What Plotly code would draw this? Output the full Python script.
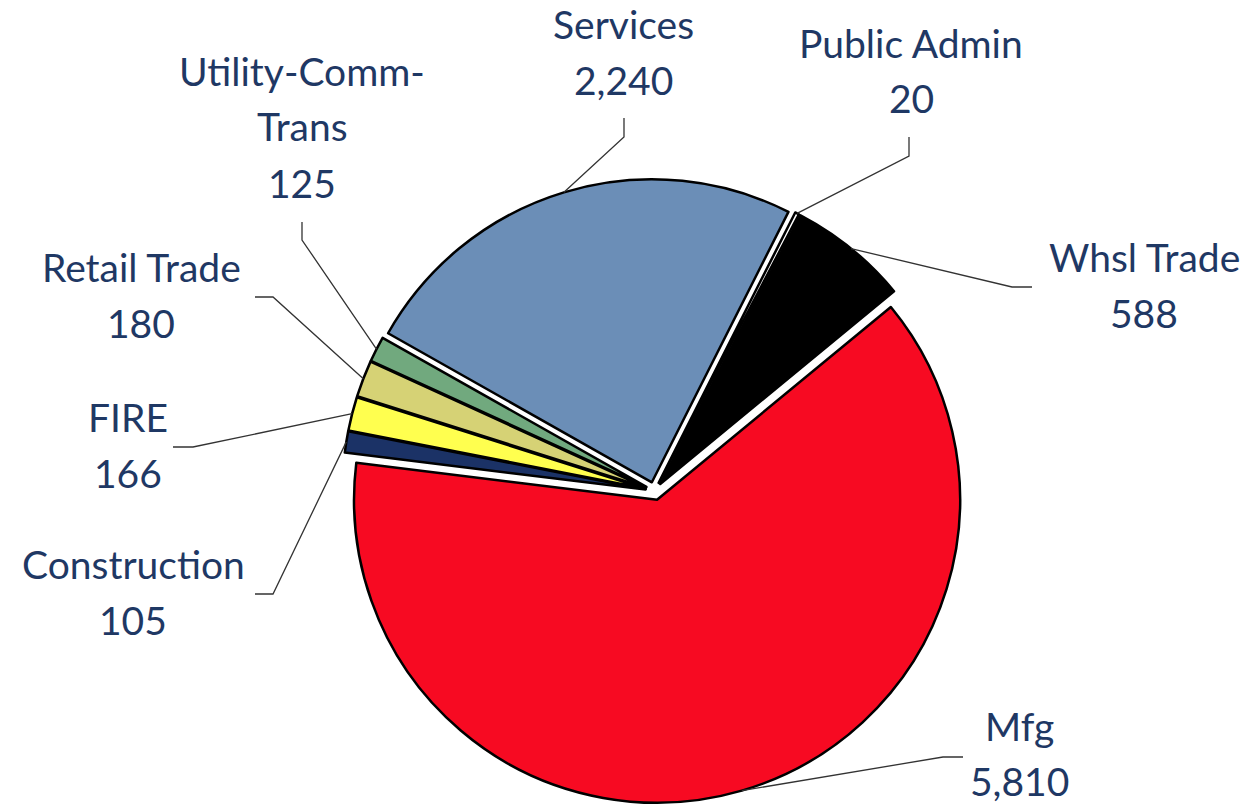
import math
import plotly.graph_objects as go

# jobs by sector, clockwise from the top-right edge of Mfg
sectors = ["Mfg", "Construction", "FIRE", "Retail Trade", "Utility-Comm-Trans",
           "Services", "Public Admin", "Whsl Trade"]
jobs = [5810, 105, 166, 180, 125, 2240, 20, 588]
colors = ["#F70A22", "#1B3266", "#FFFF4F", "#D6D275", "#71A97E",
          "#6B8EB7", "#FFFFFF", "#000000"]

W, H = 1253, 806
CX, CY = 654.5, 491.0   # pie centre in px
R = 303                 # pie radius in px
PULL = 0.03
ROTATION = 50.5
FONT = dict(family="Lato, 'Noto Sans', sans-serif", size=39, color="#1F3864")

# label layout in px: text centre x, centre y of each line, leader elbow/end
label_lines = {"Utility-Comm-Trans": ["Utility-Comm-", "Trans"]}
label_pos = {
    "Mfg": dict(x=1019, y=[726, 781], elbow=(943, 757), end=(963, 757)),
    "Construction": dict(x=133, y=[564, 620], elbow=(273, 594), end=(255, 594)),
    "FIRE": dict(x=128, y=[417, 473], elbow=(193, 447), end=(173, 447)),
    "Retail Trade": dict(x=141, y=[267, 323], elbow=(273, 297), end=(255, 297)),
    "Utility-Comm-Trans": dict(x=302, y=[71, 126, 183], elbow=(302, 240), end=(302, 222)),
    "Services": dict(x=623, y=[24, 80], elbow=(624, 137), end=(624, 118)),
    "Public Admin": dict(x=911, y=[43, 98], elbow=(909, 156), end=(909, 137)),
    "Whsl Trade": dict(x=1144, y=[257, 313], elbow=(1012, 287), end=(1032, 287)),
}


def px(x, y):
    """pixel position -> paper coords"""
    return x / W, 1 - y / H


half = R * (1 + PULL)
fig = go.Figure(go.Pie(
    labels=sectors,
    values=jobs,
    sort=False,
    direction="clockwise",
    rotation=ROTATION,
    pull=[PULL] * len(jobs),
    marker=dict(colors=colors, line=dict(color="#000000", width=2.5)),
    textinfo="none",
    hoverinfo="label+value",
    showlegend=False,
    domain=dict(x=[(CX - half) / W, (CX + half) / W],
                y=[1 - (CY + half) / H, 1 - (CY - half) / H]),
))

annotations = []
shapes = []
total = sum(jobs)
start = ROTATION
for name, v in zip(sectors, jobs):
    mid = math.radians(start + v / total * 180)
    start += v / total * 360
    ax = CX + half * math.sin(mid)
    ay = CY - half * math.cos(mid)

    pos = label_pos[name]
    lines = label_lines.get(name, [name]) + [f"{v:,}"]
    for text, ly in zip(lines, pos["y"]):
        xp, yp = px(pos["x"], ly)
        annotations.append(dict(x=xp, y=yp, xref="paper", yref="paper", text=text,
                                showarrow=False, xanchor="center", yanchor="middle",
                                font=FONT))

    pts = [px(ax, ay), px(*pos["elbow"]), px(*pos["end"])]
    path = "M " + " L ".join(f"{a:.5f},{b:.5f}" for a, b in pts)
    shapes.append(dict(type="path", path=path, xref="paper", yref="paper",
                       line=dict(color="#333333", width=1.3)))

fig.update_layout(
    width=W, height=H,
    margin=dict(l=0, r=0, t=0, b=0),
    paper_bgcolor="white",
    plot_bgcolor="white",
    annotations=annotations,
    shapes=shapes,
)

# drop the browser's default 8px body margin so the figure fills the window
fig.write_html("out.html", config={"displayModeBar": False},
               post_script="document.body.style.margin = '0';")
